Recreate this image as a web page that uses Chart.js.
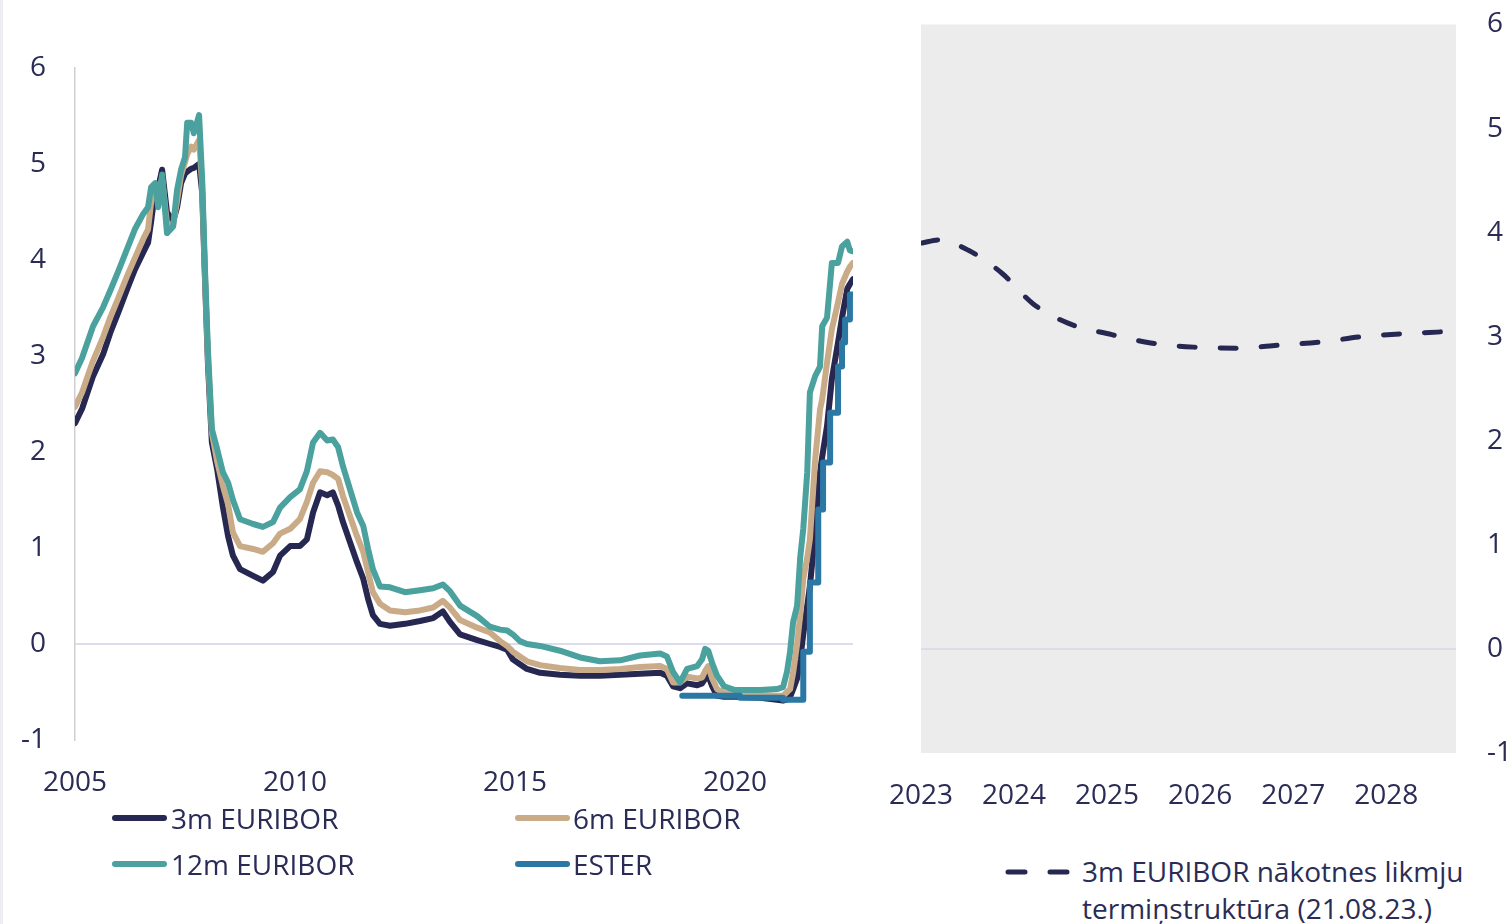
<!DOCTYPE html>
<html><head><meta charset="utf-8">
<script src="https://cdn.jsdelivr.net/npm/chart.js@4.4.0/dist/chart.umd.min.js"></script>
<style>
body{margin:0;background:#fff;width:1511px;height:924px;overflow:hidden;position:relative;font-family:'Open Sans',sans-serif;color:#2a2c56;}
#stripe{position:absolute;left:0;top:0;width:3px;height:924px;background:#eceef4;}
#c1{position:absolute;left:0;top:0;}
#c2{position:absolute;left:880px;top:0;}
.leg{position:absolute;font-size:28px;line-height:36px;height:36px;white-space:nowrap;color:#2a2c56;}
.sw{position:absolute;height:6px;border-radius:3px;width:55px;}
</style></head><body>
<div id="stripe"></div>
<canvas id="c1" width="860" height="800"></canvas>
<canvas id="c2" width="631" height="840"></canvas>

<div class="sw" style="left:112px;top:815px;background:#262851"></div>
<div class="leg" style="left:171px;top:800px">3m EURIBOR</div>
<div class="sw" style="left:515px;top:815px;background:#c9ab88"></div>
<div class="leg" style="left:573px;top:800px">6m EURIBOR</div>
<div class="sw" style="left:112px;top:861px;background:#4aa19e"></div>
<div class="leg" style="left:171px;top:846px">12m EURIBOR</div>
<div class="sw" style="left:515px;top:861px;background:#2b78a4"></div>
<div class="leg" style="left:573px;top:846px">ESTER</div>

<svg style="position:absolute;left:1000px;top:862px" width="80" height="20"><line x1="8" y1="10" x2="67" y2="10" stroke="#262851" stroke-width="5" stroke-linecap="round" stroke-dasharray="17 25"/></svg>
<div class="leg" style="left:1082px;top:853px">3m EURIBOR nākotnes likmju</div>
<div class="leg" style="left:1082px;top:890px">termiņstruktūra (21.08.23.)</div>

<script>
// ---- historical data (x = position on the chart's year axis) ----
const histDates = [2005.00,2005.16,2005.41,2005.64,2005.80,2005.98,2006.18,2006.36,2006.55,2006.66,2006.73,2006.82,2006.89,2006.98,2007.09,2007.23,2007.32,2007.41,2007.50,2007.55,2007.64,2007.70,2007.82,2007.89,2007.95,2008.02,2008.11,2008.23,2008.36,2008.48,2008.59,2008.75,2009.05,2009.27,2009.50,2009.66,2009.89,2010.11,2010.27,2010.41,2010.57,2010.73,2010.86,2010.98,2011.09,2011.25,2011.41,2011.55,2011.66,2011.77,2011.93,2012.16,2012.50,2012.84,2013.14,2013.36,2013.52,2013.75,2014.14,2014.43,2014.66,2014.82,2014.95,2015.11,2015.27,2015.57,2016.02,2016.48,2016.93,2017.39,2017.84,2018.30,2018.45,2018.59,2018.75,2018.91,2019.14,2019.25,2019.32,2019.39,2019.48,2019.59,2019.75,2020.00,2020.57,2020.95,2021.09,2021.18,2021.25,2021.32,2021.41,2021.48,2021.55,2021.64,2021.70,2021.82,2021.93,2021.98,2022.09,2022.20,2022.34,2022.43,2022.55,2022.61,2022.68];
const euribor3m = [2.30,2.45,2.79,3.02,3.24,3.45,3.69,3.90,4.08,4.18,4.40,4.72,4.75,4.94,4.50,4.40,4.55,4.80,4.90,4.92,4.95,4.96,5.00,4.70,3.85,2.93,2.10,1.82,1.43,1.12,0.92,0.78,0.71,0.66,0.75,0.92,1.02,1.02,1.09,1.37,1.58,1.55,1.58,1.44,1.27,1.06,0.85,0.68,0.47,0.30,0.21,0.19,0.21,0.24,0.27,0.34,0.23,0.10,0.04,0.00,-0.03,-0.06,-0.16,-0.21,-0.26,-0.30,-0.32,-0.33,-0.33,-0.32,-0.31,-0.30,-0.33,-0.44,-0.46,-0.41,-0.43,-0.41,-0.36,-0.33,-0.44,-0.54,-0.55,-0.55,-0.56,-0.58,-0.59,-0.58,-0.55,-0.47,-0.36,-0.16,0.10,0.40,0.60,1.16,1.79,1.95,2.27,2.76,3.14,3.40,3.70,3.75,3.80];
const euribor6m = [2.47,2.62,2.95,3.20,3.40,3.60,3.83,4.02,4.22,4.32,4.60,4.78,4.70,4.85,4.38,4.36,4.62,4.88,5.02,5.10,5.18,5.15,5.25,4.78,3.90,3.00,2.20,1.90,1.65,1.45,1.16,1.02,0.99,0.96,1.05,1.15,1.20,1.30,1.48,1.68,1.80,1.79,1.76,1.72,1.54,1.33,1.12,0.96,0.75,0.54,0.42,0.35,0.33,0.35,0.38,0.45,0.38,0.25,0.17,0.12,0.03,-0.02,-0.08,-0.13,-0.18,-0.22,-0.25,-0.27,-0.27,-0.26,-0.24,-0.23,-0.26,-0.40,-0.40,-0.34,-0.36,-0.35,-0.28,-0.23,-0.36,-0.47,-0.51,-0.52,-0.53,-0.54,-0.54,-0.50,-0.47,-0.30,0.00,0.30,0.68,0.90,1.09,1.92,2.44,2.55,2.93,3.28,3.56,3.75,3.88,3.93,3.97];
const euribor12m = [2.82,2.98,3.31,3.51,3.68,3.88,4.11,4.32,4.48,4.55,4.76,4.80,4.55,4.89,4.28,4.35,4.73,4.94,5.07,5.43,5.43,5.32,5.51,4.84,3.95,3.07,2.24,2.03,1.79,1.68,1.50,1.30,1.25,1.22,1.27,1.42,1.53,1.61,1.80,2.10,2.20,2.12,2.13,2.05,1.85,1.61,1.37,1.23,0.99,0.78,0.60,0.59,0.54,0.56,0.58,0.62,0.55,0.40,0.29,0.18,0.15,0.14,0.10,0.03,0.00,-0.02,-0.07,-0.14,-0.18,-0.17,-0.12,-0.10,-0.13,-0.29,-0.40,-0.26,-0.23,-0.16,-0.05,-0.07,-0.20,-0.33,-0.44,-0.48,-0.48,-0.47,-0.45,-0.29,-0.08,0.23,0.40,0.90,1.20,1.79,2.62,2.79,2.89,3.31,3.40,3.97,3.97,4.14,4.19,4.10,4.09];
const esterDates = [2018.80,2020.11,2021.09,2021.55,2021.70,2021.89,2022.00,2022.16,2022.34,2022.43,2022.50,2022.61,2022.68];
const ester = [-0.54,-0.56,-0.58,-0.08,0.64,1.40,1.89,2.41,2.89,3.14,3.38,3.64,3.64];

// ---- forward curve (21.08.23.) ----
const fwdDates = [2023.01,2023.19,2023.51,2023.87,2024.20,2024.58,2025.05,2025.47,2025.93,2026.40,2026.86,2027.30,2027.74,2028.20,2028.64,2028.75];
const fwdValues = [3.90,3.93,3.83,3.61,3.32,3.13,3.02,2.94,2.90,2.89,2.92,2.95,3.00,3.03,3.05,3.06];

// ---- tick labels ----
const leftXTicks = [2005,2010,2015,2020];
const leftYTicks = [-1,0,1,2,3,4,5,6];
const rightXTicks = [2023,2024,2025,2026,2027,2028];
const rightYTicks = [-1,0,1,2,3,4,5,6];

Chart.defaults.font.family = "'Open Sans', sans-serif";
Chart.defaults.font.size = 28;
Chart.defaults.color = '#2a2c56';

const pts = (xs, ys) => xs.map((x, i) => ({x: x, y: ys[i]}));
function fixSize(size, horizontal) {
  return function (s) {
    if (horizontal) s.height = size; else s.width = size;
    s.paddingTop = 0; s.paddingBottom = 0; s.paddingLeft = 0; s.paddingRight = 0;
  };
}
const setTicks = arr => s => { s.ticks = arr.map(v => ({value: v})); };
const zeroGrid = c => (c.tick && c.tick.value === 0) ? '#dcdcec' : 'rgba(0,0,0,0)';

new Chart(document.getElementById('c1'), {
  type: 'line',
  data: { datasets: [
    {label: 'ESTER', data: pts(esterDates, ester), borderColor: '#2b78a4', stepped: true, order: 0},
    {label: '12m EURIBOR', data: pts(histDates, euribor12m), borderColor: '#4aa19e', order: 1},
    {label: '6m EURIBOR', data: pts(histDates, euribor6m), borderColor: '#c9ab88', order: 2},
    {label: '3m EURIBOR', data: pts(histDates, euribor3m), borderColor: '#262851', order: 3}
  ]},
  options: {
    responsive: false, animation: false,
    layout: {padding: {left: 0, top: 68, right: 7, bottom: 0}},
    plugins: {legend: {display: false}, tooltip: {enabled: false}},
    elements: {point: {radius: 0}, line: {borderWidth: 6, tension: 0, borderCapStyle: 'round', borderJoinStyle: 'round', fill: false}},
    scales: {
      x: {type: 'linear', min: 2005, max: 2022.68, afterFit: fixSize(60, true), afterBuildTicks: setTicks(leftXTicks),
          grid: {display: false, drawTicks: false}, border: {display: false},
          ticks: {padding: 26, maxRotation: 0, autoSkip: false, callback: v => String(v)}},
      y: {type: 'linear', min: -1, max: 6, afterFit: fixSize(75, false), afterBuildTicks: setTicks(leftYTicks),
          grid: {drawTicks: false, color: zeroGrid, lineWidth: 2}, border: {display: true, color: '#d0d0d0', width: 1.5},
          ticks: {padding: 29, callback: v => String(v)}}
    }
  }
});

const plotBg = {id: 'plotBg', beforeDraw(chart) {
  const a = chart.chartArea, ctx = chart.ctx;
  ctx.save(); ctx.fillStyle = '#ececec'; ctx.fillRect(a.left, a.top, a.width, a.height); ctx.restore();
}};

new Chart(document.getElementById('c2'), {
  type: 'line',
  data: { datasets: [
    {label: '3m EURIBOR nākotnes likmju termiņstruktūra (21.08.23.)', data: pts(fwdDates, fwdValues),
     borderColor: '#262851', borderWidth: 5, borderDash: [16, 25], borderCapStyle: 'round',
     cubicInterpolationMode: 'monotone', pointRadius: 0, fill: false}
  ]},
  options: {
    responsive: false, animation: false,
    layout: {padding: {left: 41, top: 24.5, right: 0, bottom: 0}},
    plugins: {legend: {display: false}, tooltip: {enabled: false}},
    scales: {
      x: {type: 'linear', min: 2023, max: 2028.75, afterFit: fixSize(87, true), afterBuildTicks: setTicks(rightXTicks),
          grid: {display: false, drawTicks: false}, border: {display: false},
          ticks: {padding: 26, maxRotation: 0, autoSkip: false, callback: v => String(v)}},
      y: {type: 'linear', position: 'right', min: -1, max: 6, afterFit: fixSize(55, false), afterBuildTicks: setTicks(rightYTicks),
          grid: {drawTicks: false, color: zeroGrid, lineWidth: 2}, border: {display: false},
          ticks: {padding: 31, callback: v => String(v)}}
    }
  },
  plugins: [plotBg]
});
</script>
</body></html>
